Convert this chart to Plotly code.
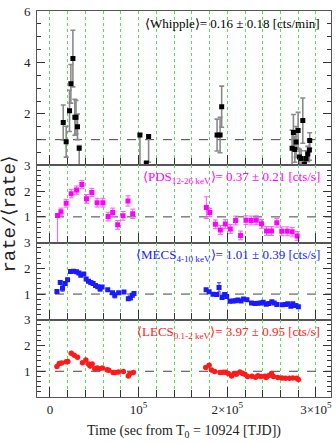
import plotly.graph_objects as go
from plotly.subplots import make_subplots

# ---------------- data ----------------
whip_t = [15000, 18300, 22100, 23600, 25900, 28100, 29400, 31100, 33000,
          101500, 108700, 111300,
          188500, 191900, 193700,
          273100, 274600, 276200, 277600, 279900, 281400, 283300, 285200,
          287000, 288900, 290800, 292600, 293000]
whip_r = [1.67, 0.92, 2.12, 3.17, 4.15, 1.87, 1.87, 1.50, 0.67,
          1.18, 0.09, 1.12,
          1.18, 1.18, 2.28,
          0.67, 1.28, 0.62, 0.91, 1.36, 0.33, 0.27, 1.74,
          0.05, 0.27, 0.44, 0.60, 0.97]
whip_ep = [0.68, 0.60, 0.80, 0.75, 1.10, 0.70, 0.65, 0.50, 0.10,
           0.05, 0.05, 0.05,
           0.62, 0.69, 0.80,
           0.70, 0.70, 0.50, 0.60, 0.70, 0.30, 0.30, 0.88,
           0.20, 0.30, 0.30, 0.40, 0.30]
whip_em = [0.68, 0.60, 0.80, 0.75, 1.10, 0.70, 0.65, 0.50, 0.70,
           1.30, 0.10, 1.00,
           0.62, 0.69, 0.80,
           0.70, 0.70, 0.50, 0.60, 0.70, 0.30, 0.30, 0.88,
           0.10, 0.30, 0.30, 0.40, 0.30]

pds_t = [8600, 12400, 18300, 24000, 30000, 36000, 41200, 47200, 53200, 59600,
         65600, 70800, 76400, 82400, 88000, 93300,
         176400, 180200, 186600, 192200, 197800, 203400, 209400, 215000,
         221100, 227000, 232700, 238600, 244300, 249900, 255900, 261500,
         267500, 273100, 278800]
pds_r = [1.05, 1.20, 1.53, 1.90, 2.04, 2.26, 1.70, 1.95, 1.55, 1.55,
         1.01, 1.17, 0.69, 1.04, 1.62, 1.12,
         1.36, 1.17, 0.71, 0.49, 0.72, 0.53, 0.86, 0.28,
         0.87, 0.86, 0.87, 0.73, 0.45, 0.45, 0.77, 0.44,
         0.44, 0.42, 0.26]
pds_ep = [0.05, 0.14, 0.15, 0.16, 0.16, 0.16, 0.17, 0.16, 0.17, 0.17,
          0.17, 0.17, 0.17, 0.17, 0.20, 0.18,
          0.42, 0.16, 0.17, 0.17, 0.17, 0.17, 0.17, 0.17,
          0.17, 0.17, 0.17, 0.17, 0.17, 0.17, 0.17, 0.17,
          0.17, 0.17, 0.17]
pds_em = [1.05, 0.14, 0.15, 0.16, 0.16, 0.16, 0.17, 0.16, 0.17, 0.17,
          0.17, 0.17, 0.17, 0.17, 0.20, 0.18,
          0.42, 0.16, 0.17, 0.17, 0.17, 0.17, 0.17, 0.17,
          0.17, 0.17, 0.17, 0.17, 0.17, 0.17, 0.17, 0.17,
          0.17, 0.17, 0.17]

mecs_t = [7900, 11600, 14200, 17200, 19900, 23200, 26600, 30000, 32600, 34800,
          38200, 40800, 43500, 46100, 48700, 51400, 54000, 56500, 58800, 65200,
          70500, 73100, 77600, 83500, 88400, 90700, 92900, 94800,
          176100, 179500, 183900, 188000, 190700, 194100, 197100, 199300,
          203100, 206500, 209400, 212100, 215500, 218400, 222200, 227400,
          231200, 234600, 238000, 240500, 243900, 246900, 250300, 252900,
          255900, 261900, 265600, 268300, 271700, 273900, 276800, 280200]
mecs_r = [1.10, 1.45, 1.23, 1.41, 1.56, 1.88, 1.89, 1.87, 1.82, 1.73,
          1.78, 1.59, 1.50, 1.45, 1.41, 1.33, 1.28, 1.20, 1.27, 1.17,
          1.05, 0.95, 1.05, 1.08, 0.82, 0.85, 0.95, 1.02,
          1.17, 1.09, 0.99, 0.98, 1.26, 0.87, 0.98, 0.91,
          0.72, 0.73, 0.74, 0.77, 0.73, 0.81, 0.78, 0.65,
          0.63, 0.64, 0.65, 0.68, 0.60, 0.63, 0.70, 0.65,
          0.59, 0.58, 0.59, 0.62, 0.53, 0.62, 0.56, 0.51]
mecs_e = [0.05, 0.06, 0.12, 0.05, 0.05, 0.05, 0.05, 0.05, 0.05, 0.05,
          0.05, 0.05, 0.05, 0.05, 0.05, 0.05, 0.05, 0.08, 0.05, 0.05,
          0.05, 0.10, 0.05, 0.05, 0.06, 0.06, 0.05, 0.05,
          0.05, 0.05, 0.05, 0.05, 0.18, 0.05, 0.05, 0.05,
          0.04, 0.04, 0.04, 0.04, 0.04, 0.04, 0.04, 0.04,
          0.04, 0.04, 0.04, 0.04, 0.04, 0.04, 0.04, 0.04,
          0.04, 0.04, 0.04, 0.04, 0.04, 0.04, 0.04, 0.04]

lecs_t = [7900, 10500, 13100, 18300, 20200, 24000, 27400, 31100, 36700, 40500,
          43500, 45300, 47600, 50600, 53200, 55800, 59200, 64400, 66300, 71200,
          73400, 77200, 82800, 88400, 90300, 94000,
          175700, 179500, 182100, 185800, 191900, 195300, 198200, 201200,
          204900, 207600, 210200, 214300, 217300, 219900, 222900, 227800,
          231900, 234600, 238000, 242400, 243900, 246500, 249900, 252100,
          257100, 261900, 265600, 270100, 273900, 278400, 280200]
lecs_r = [1.19, 1.30, 1.32, 1.37, 1.38, 1.70, 1.62, 1.54, 1.33, 1.44,
          1.28, 1.20, 1.28, 1.10, 1.13, 1.10, 1.13, 1.06, 1.04, 0.95,
          0.95, 0.97, 0.99, 0.82, 0.91, 0.95,
          1.15, 1.23, 1.05, 0.99, 0.95, 0.96, 0.96, 0.91,
          0.82, 0.91, 0.88, 0.97, 0.91, 0.88, 0.80, 0.81,
          0.77, 0.83, 0.80, 0.81, 0.76, 0.83, 0.91, 0.80,
          0.76, 0.74, 0.73, 0.73, 0.74, 0.73, 0.68]

labels = ["⟨Whipple⟩= 0.16 ± 0.18 [cts/min]",
          "⟨PDS<sub>12-26 keV</sub>⟩= 0.37 ± 0.21 [cts/s]",
          "⟨MECS<sub>4-10 keV</sub>⟩= 1.01 ± 0.39 [cts/s]",
          "⟨LECS<sub>0.1-2 keV</sub>⟩= 3.97 ± 0.95 [cts/s]"]
label_colors = ["#000000", "#ff00ff", "#2020ff", "#ff2020"]

x_tickvals = [0, 100000, 200000, 300000]
x_ticktext = ["0", "10<sup>5</sup>", "2×10<sup>5</sup>", "3×10<sup>5</sup>"]

# ---------------- figure ----------------
SERIF = "Liberation Serif"
fig = make_subplots(rows=4, cols=1, shared_xaxes=True, vertical_spacing=0,
                    row_heights=[0.4, 0.2, 0.2, 0.2])

fig.add_trace(go.Scatter(
    x=whip_t, y=whip_r, mode="markers",
    marker=dict(symbol="square", size=5, color="black"),
    error_y=dict(type="data", symmetric=False, array=whip_ep, arrayminus=whip_em,
                 color="#8a8a8a", thickness=1.6, width=2.5)), row=1, col=1)

fig.add_trace(go.Scatter(
    x=pds_t, y=pds_r, mode="markers",
    marker=dict(symbol="square", size=5, color="#ff00ff"),
    error_y=dict(type="data", symmetric=False, array=pds_ep, arrayminus=pds_em,
                 color="#ff55ff", thickness=1, width=2.5)), row=2, col=1)

fig.add_trace(go.Scatter(
    x=mecs_t, y=mecs_r, mode="markers",
    marker=dict(symbol="square", size=5, color="#1a1aff"),
    error_y=dict(type="data", array=mecs_e, color="#3b3bff", thickness=1, width=2)),
    row=3, col=1)

fig.add_trace(go.Scatter(
    x=lecs_t, y=lecs_r, mode="markers",
    marker=dict(symbol="circle", size=5.5, color="#ff1a1a")),
    row=4, col=1)

for r in range(1, 5):
    fig.add_hline(y=1, line=dict(color="#444444", dash="dash", width=1),
                  layer="below", row=r, col=1)

xaxis_style = dict(
    range=[-14600, 317000], showline=True, mirror=True, linecolor="#555555",
    linewidth=1, ticks="inside", ticklen=10, tickcolor="#333333",
    tickvals=x_tickvals, ticktext=x_ticktext,
    showgrid=True, gridcolor="#55e055", griddash="dot", gridwidth=1,
    zeroline=False,
    minor=dict(tick0=0, dtick=20000, ticks="inside", ticklen=7,
               tickcolor="#333333", showgrid=True, gridcolor="#55e055",
               griddash="dot", gridwidth=1),
    tickfont=dict(family=SERIF, size=13, color="#222222"),
)
for i in range(1, 5):
    name = "xaxis" if i == 1 else f"xaxis{i}"
    fig.layout[name].update(**xaxis_style)
    if i < 4:
        fig.layout[name].showticklabels = False

yaxis_common = dict(
    showline=True, mirror="ticks", linecolor="#555555", linewidth=1,
    ticks="inside", ticklen=8, tickcolor="#333333", showgrid=False,
    zeroline=False, tickfont=dict(family=SERIF, size=13, color="#222222"),
    ticklabelstandoff=3,
)
fig.update_yaxes(range=[0, 6], tickvals=[2, 4, 6], ticktext=["2", "4", "6"],
                 minor=dict(tick0=0, dtick=0.5, ticks="inside", ticklen=4,
                            tickcolor="#333333"),
                 row=1, col=1, **yaxis_common)
for r in range(2, 5):
    fig.update_yaxes(range=[0, 3], tickvals=[1, 2, 3], ticktext=["1", "2", "3"],
                     minor=dict(tick0=0, dtick=0.2, ticks="inside", ticklen=4,
                                tickcolor="#333333"),
                     row=r, col=1, **yaxis_common)

# panel labels
for i, (txt, col) in enumerate(zip(labels, label_colors), start=1):
    sfx = "" if i == 1 else str(i)
    yy = 1 - 12.5 / 156 if i == 1 else 1 - 12.7 / 78
    fig.add_annotation(text=txt, xref=f"x{sfx} domain", yref=f"y{sfx} domain",
                       x=0.968, y=yy, xanchor="right", yanchor="middle",
                       showarrow=False,
                       font=dict(family=SERIF, size=13, color=col))

# axis titles
fig.add_annotation(text="rate/⟨rate⟩", xref="paper", yref="paper",
                   x=-0.092, y=0.475, textangle=-90, showarrow=False,
                   xanchor="center", yanchor="middle",
                   font=dict(family="Liberation Mono", size=19, color="#222222"))
fig.add_annotation(text="Time (sec from T<sub>0</sub> = 10924 [TJD])",
                   xref="paper", yref="paper", x=0.5, y=-0.09,
                   xanchor="center", yanchor="middle", showarrow=False,
                   font=dict(family=SERIF, size=14, color="#222222"))

fig.update_layout(
    width=336, height=443,
    margin=dict(l=37, r=4, t=7, b=46),
    paper_bgcolor="white", plot_bgcolor="white",
    showlegend=False,
)

fig.write_html("out.html", config={"displayModeBar": False},
               post_script="document.body.style.margin='0';document.body.style.overflow='hidden';")
